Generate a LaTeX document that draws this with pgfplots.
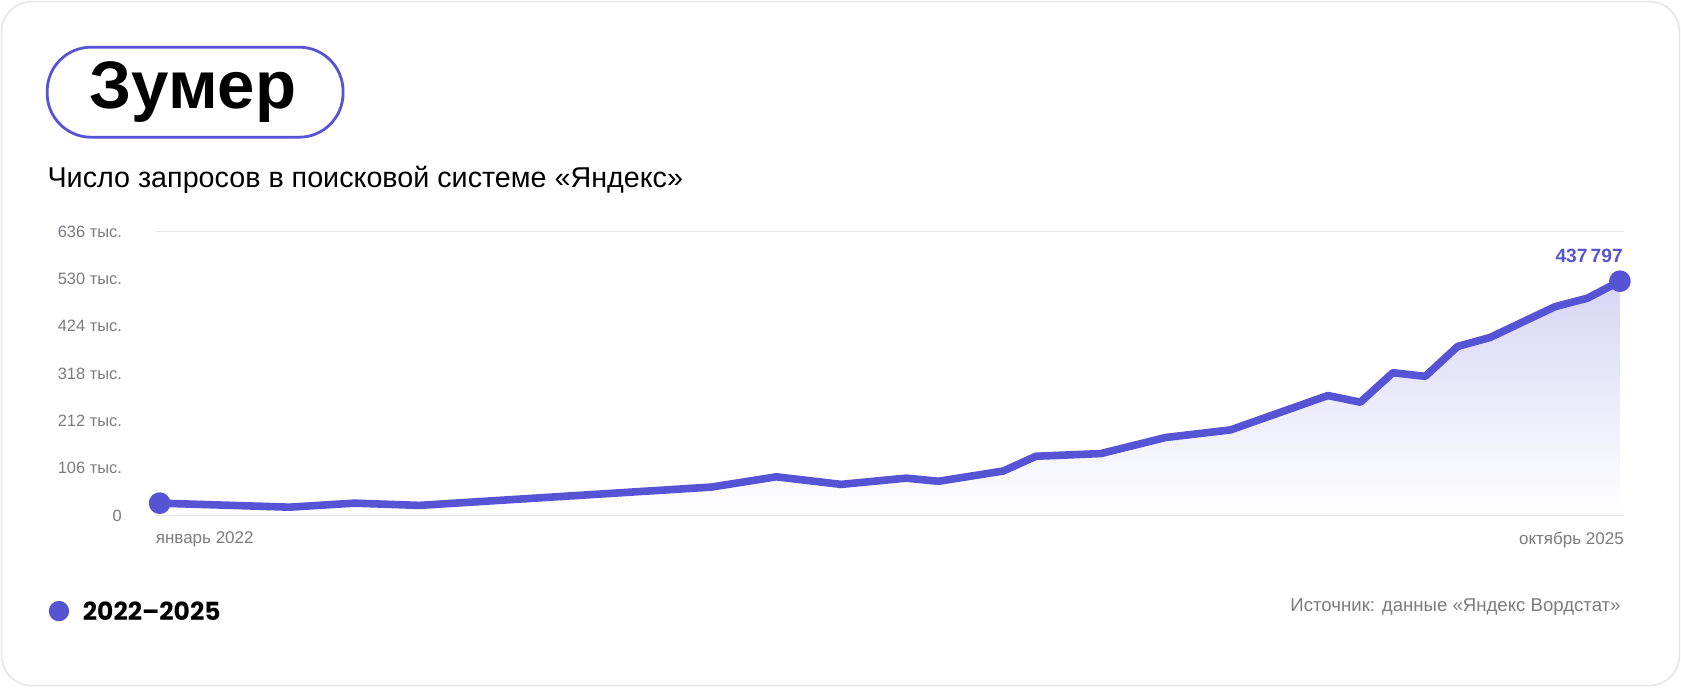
\documentclass[border=0pt]{standalone}
\usepackage{fontspec}
\setmainfont{Liberation Sans}
\newfontfamily\pop{Poppins}
\usepackage{pgfplots}
\pgfplotsset{compat=1.18}
\definecolor{vio}{HTML}{5654D4}
\definecolor{tickgray}{HTML}{7B7B82}
\definecolor{gridgray}{HTML}{E3E3E8}
\definecolor{cardgray}{HTML}{E6E6EA}
\pgfplotstableread{
m v
0 28
4 19
6 28
8 23
17 64
19 87
21 70
23 84
24 77
26 100
27 133
29 139
31 175
33 192
36 269
37 254
38 320
39 312
40 379
41 399
43 468
44 487
45 525
}\series
\begin{document}
\begin{tikzpicture}[x=0.536pt,y=0.536pt]
\useasboundingbox (0,0) rectangle (1568,641);
\fill[white] (0,0) rectangle (1568,641);
\draw[cardgray, line width=0.8pt, rounded corners=15pt] (1.5,1.5) rectangle (1566.5,639.5);
% pill
\draw[vio, line width=1.4pt, rounded corners=22pt] (44,513) rectangle (320,597);
\node[inner sep=0pt] at (180,555) {\fontsize{33.6}{40}\selectfont\bfseries Зумер};
\node[anchor=base west, inner sep=0pt] at (44,466) {\fontsize{14.35}{16}\selectfont Число запросов в поисковой системе «Яндекс»};
\begin{axis}[
  at={(77.72pt,85.76pt)}, anchor=south west,
  scale only axis, width=734.3pt, height=142pt,
  xmin=-0.13, xmax=45.13, ymin=0, ymax=636,
  axis line style={draw=none},
  xtick=\empty,
  ytick={0,106,212,318,424,530,636},
  yticklabels={0,106 тыс.,212 тыс.,318 тыс.,424 тыс.,530 тыс.,636 тыс.},
  major tick length=0pt,
  yticklabel style={font=\fontsize{8.2}{9}\selectfont, text=tickgray, anchor=east, inner sep=0pt, xshift=-16.6pt},
  extra y ticks={0,636},
  extra y tick labels={},
  extra y tick style={grid=major, major grid style={gridgray, line width=0.7pt}},
  axis on top,
  clip=false,
]
\addplot[draw=none, top color=vio!24!white, bottom color=white] table[x=m,y=v]{\series} \closedcycle;
\addplot[vio, line width=3.8pt, line join=round, line cap=round, mark=*, mark indices={1,23}, mark size=3.5pt, mark options={fill=vio, draw=none}] table[x=m,y=v]{\series};
\node[anchor=north west, inner sep=0pt, font=\fontsize{8.5}{9}\selectfont, text=tickgray] at (axis cs:-0.13,0) [yshift=-8pt] {январь 2022};
\node[anchor=north east, inner sep=0pt, font=\fontsize{8.5}{9}\selectfont, text=tickgray] at (axis cs:45.13,0) [yshift=-8pt] {октябрь 2025};
\node[anchor=base east, inner sep=0pt, font=\fontsize{9.6}{10}\selectfont\bfseries, text=vio] at (axis cs:45.1,525) [yshift=9.5pt] {437\,797};
\end{axis}
% legend
\fill[vio] (55,71) circle (9.5);
\node[anchor=west, inner sep=0pt] at (77,71) {\pop\fontsize{12.5}{14}\selectfont\bfseries 2022–2025};
\node[anchor=east, inner sep=0pt, text=tickgray] at (1512,75) {\fontsize{9.3}{10}\selectfont Источник: данные «Яндекс Вордстат»};
\end{tikzpicture}
\end{document}
